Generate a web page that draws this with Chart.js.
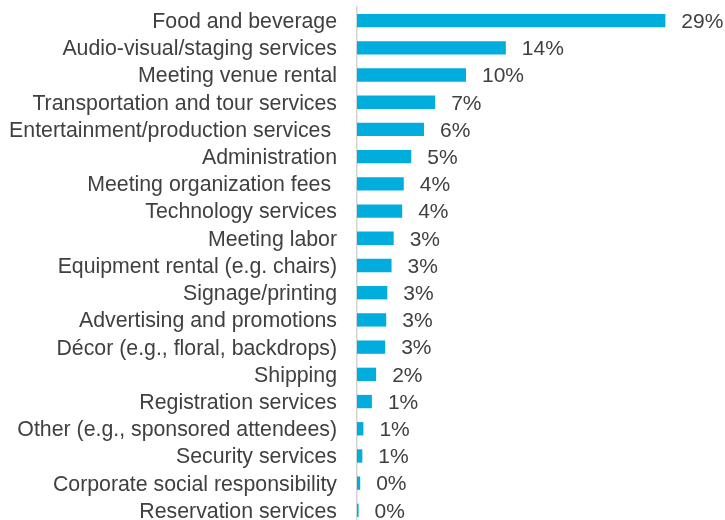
<!DOCTYPE html>
<html>
<head>
<meta charset="utf-8">
<script src="https://cdn.jsdelivr.net/npm/chart.js@4"></script>
<style>
    html, body { margin: 0; padding: 0; overflow: hidden; background: #fff; }
    canvas { display: block; }
</style>
</head>
<body>
<canvas id="costChart" width="725" height="531"></canvas>
<script>
const categories = [
    "Food and beverage",
    "Audio-visual/staging services",
    "Meeting venue rental",
    "Transportation and tour services",
    "Entertainment/production services ",
    "Administration",
    "Meeting organization fees ",
    "Technology services",
    "Meeting labor",
    "Equipment rental (e.g. chairs)",
    "Signage/printing",
    "Advertising and promotions",
    "Décor (e.g., floral, backdrops)",
    "Shipping",
    "Registration services",
    "Other (e.g., sponsored attendees)",
    "Security services",
    "Corporate social responsibility",
    "Reservation services"
];
const shares = [29.0, 14.0, 10.25, 7.35, 6.3, 5.1, 4.4, 4.25, 3.45, 3.25, 2.85, 2.75, 2.65, 1.8, 1.4, 0.6, 0.5, 0.3, 0.15];
const shareLabels = ["29%", "14%", "10%", "7%", "6%", "5%", "4%", "4%", "3%", "3%", "3%", "3%", "3%", "2%", "1%", "1%", "1%", "0%", "0%"];

// value labels next to bars
const valueLabels = {
    id: "valueLabels",
    afterDatasetsDraw(chart) {
        const ctx = chart.ctx;
        const meta = chart.getDatasetMeta(0);
        ctx.save();
        ctx.font = "21px 'Liberation Sans', Arial, sans-serif";
        ctx.fillStyle = "#404040";
        ctx.textAlign = "left";
        ctx.textBaseline = "middle";
        meta.data.forEach((bar, i) => {
            ctx.fillText(shareLabels[i], bar.x + 16, bar.y + 1.5);
        });
        ctx.restore();
    }
};

new Chart(document.getElementById("costChart"), {
    type: "bar",
    data: {
        labels: categories,
        datasets: [{
            data: shares,
            backgroundColor: "#00ADDC",
            borderWidth: 0,
            categoryPercentage: 1,
            barPercentage: 0.49
        }]
    },
    options: {
        indexAxis: "y",
        responsive: false,
        animation: false,
        layout: { padding: { top: 7, bottom: 7, right: 49, left: 0 } },
        plugins: {
            legend: { display: false },
            tooltip: { enabled: false }
        },
        scales: {
            x: {
                display: false,
                min: 0,
                max: 30
            },
            y: {
                afterFit: (scale) => {
                    scale.width = 357;
                    scale.paddingTop = 0;
                    scale.paddingBottom = 0;
                },
                grid: { display: false, drawTicks: false },
                border: { display: true, color: "#D4D4D4", width: 1.5 },
                ticks: {
                    autoSkip: false,
                    padding: 20,
                    labelOffset: 1.5,
                    color: "#404040",
                    font: { family: "'Liberation Sans', Arial, sans-serif", size: 21.3 }
                }
            }
        }
    },
    plugins: [valueLabels]
});
</script>
</body>
</html>
